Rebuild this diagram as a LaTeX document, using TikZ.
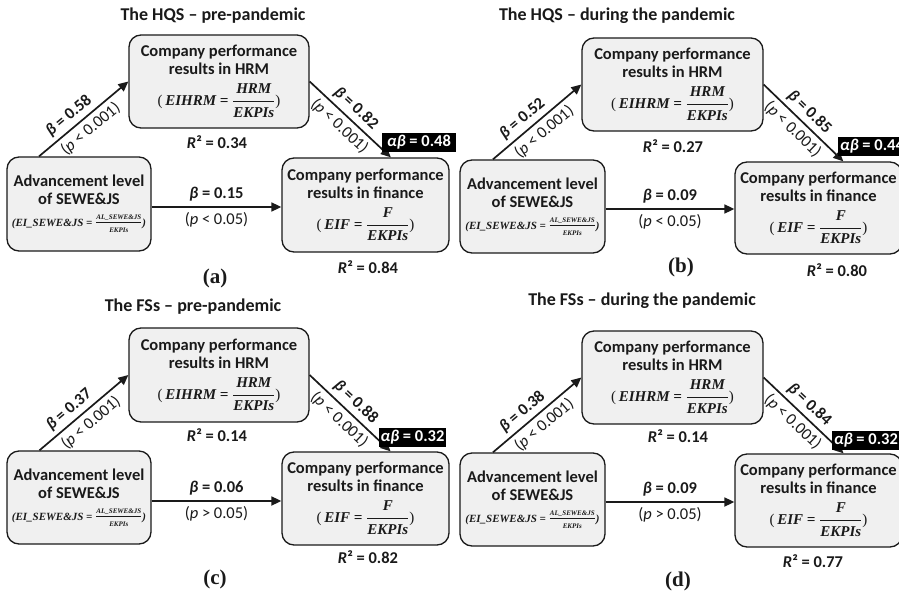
\documentclass[tikz,border=0pt]{standalone}
\usepackage{fontspec}
\setmainfont{Carlito}
\newfontfamily\tnr{Liberation Serif}
\usetikzlibrary{arrows.meta}
\definecolor{boxfill}{RGB}{240,240,240}
\definecolor{ink}{RGB}{26,26,26}
\newcommand\cb{\fontsize{16.5}{18}\selectfont\bfseries}
\newcommand\creg{\fontsize{16.5}{18}\selectfont\mdseries}
\newcommand\fbi{\fontsize{15}{18}\selectfont\tnr\bfseries\itshape}
\newcommand\fup{\fontsize{15}{18}\selectfont\tnr\mdseries\upshape}
\newcommand\sbi{\fontsize{11}{12}\selectfont\tnr\bfseries\itshape}
\newcommand\tbi{\fontsize{7}{8}\selectfont\tnr\bfseries\itshape}
\newcommand\fhrm{{\fup(}\,{\fbi EIHRM\ =\ }$\displaystyle\frac{\hbox{\fbi HRM}}{\hbox{\fbi EKPIs}}${\fup)}}
\newcommand\ffin{{\fup(}\,{\fbi EIF\ =\ }$\displaystyle\frac{\hbox{\fbi F}}{\hbox{\fbi EKPIs}}${\fup)}}
\newcommand\fsew{{\sbi(EI\_SEWE\&JS\ =\ }$\frac{\hbox{\tbi AL\_SEWE\&JS}}{\hbox{\tbi EKPIs}}${\sbi)}}
\tikzset{
  box/.style={draw=ink, fill=boxfill, line width=1.3pt, rounded corners=12pt, align=center, inner sep=0pt, font=\cb, text=ink},
  arr/.style={draw=ink, line width=1.7pt, -{Triangle[length=10pt,width=9pt]}},
  lab/.style={font=\cb, text=ink, inner sep=0pt},
  plab/.style={font=\creg, text=ink, inner sep=0pt},
  ttl/.style={font=\fontsize{18}{20}\selectfont\bfseries, text=ink, inner sep=0pt},
  letter/.style={font=\fontsize{21}{24}\selectfont\tnr\bfseries, text=ink, inner sep=0pt},
  abbox/.style={fill=black, text=white, font=\cb, inner xsep=2pt, inner ysep=0pt, minimum height=19pt},
}
\begin{document}
\begin{tikzpicture}[x=1pt,y=-1pt]
\useasboundingbox (0,0) rectangle (899,594);
\clip (0,0) rectangle (899,594);
\fill[white] (0,0) rectangle (899,594);
% ---------- (a)
\node[ttl] (ta) at (213,16) {The HQS – pre-pandemic};
\node[box, minimum width=180pt, minimum height=93pt] (ha) at (219,81.5) {Company performance\\results in HRM\\[8pt]\fhrm};
\node[box, minimum width=144pt, minimum height=94pt] (sa) at (79,204) {Advancement level\\of SEWE\&JS\\[4pt]\fsew};
\node[box, minimum width=167pt, minimum height=94pt] (fa) at (365.5,205) {Company performance\\results in finance\\[8pt]\ffin};
\node[lab] (ra1) at (217,142) {\textit{R}² = 0.34};
\node[lab] (ra2) at (368,267) {\textit{R}² = 0.84};
\node[letter] (la) at (215,278) {(a)};
\coordinate (sa0) at ([yshift=-3pt]sa.east);
\draw[arr] (sa.130) -- node[lab, sloped, pos=0.42, above=4pt]{\textit{β} = 0.58} node[plab, sloped, pos=0.49, below=4pt]{(\textit{p} < 0.001)} (ha.west);
\draw[arr] (ha.east) -- node[lab, sloped, pos=0.47, above=4pt]{\textit{β} = 0.82} node[plab, sloped, pos=0.47, below=4pt]{(\textit{p} < 0.001)} (fa.62);
\draw[arr] (sa0) -- node[lab, above=5pt]{\textit{β} = 0.15} node[plab, below=5pt]{(\textit{p} < 0.05)} (sa0 -| fa.west);
\node[abbox, minimum width=74pt] (aba) at (419,142.5) {\textit{αβ} = 0.48};
% ---------- (b)
\node[ttl] (tb) at (617,16) {The HQS – during the pandemic};
\node[box, minimum width=181pt, minimum height=93pt] (hb) at (672.5,84.5) {Company performance\\results in HRM\\[8pt]\fhrm};
\node[box, minimum width=145pt, minimum height=93pt] (sb) at (532.5,206.5) {Advancement level\\of SEWE\&JS\\[4pt]\fsew};
\node[box, minimum width=167pt, minimum height=92pt] (fb) at (818.5,208) {Company performance\\results in finance\\[8pt]\ffin};
\node[lab] (rb1) at (673,146) {\textit{R}² = 0.27};
\node[lab] (rb2) at (837,270) {\textit{R}² = 0.80};
\node[letter] (lb) at (681,267) {(b)};
\coordinate (sb0) at ([yshift=-2.5pt]sb.east);
\draw[arr] (sb.130) -- node[lab, sloped, pos=0.42, above=4pt]{\textit{β} = 0.52} node[plab, sloped, pos=0.49, below=4pt]{(\textit{p} < 0.001)} (hb.west);
\draw[arr] (hb.east) -- node[lab, sloped, pos=0.47, above=4pt]{\textit{β} = 0.85} node[plab, sloped, pos=0.47, below=4pt]{(\textit{p} < 0.001)} (fb.62);
\draw[arr] (sb0) -- node[lab, above=5pt]{\textit{β} = 0.09} node[plab, below=5pt]{(\textit{p} < 0.05)} (sb0 -| fb.west);
\node[abbox, minimum width=68pt] (abb) at (872,146.5) {\textit{αβ} = 0.44};
% ---------- (c)
\node[ttl] (tc) at (193,307) {The FSs – pre-pandemic};
\node[box, minimum width=180pt, minimum height=94pt] (hc) at (219,375) {Company performance\\results in HRM\\[8pt]\fhrm};
\node[box, minimum width=144pt, minimum height=93pt] (sc) at (79,497.5) {Advancement level\\of SEWE\&JS\\[4pt]\fsew};
\node[box, minimum width=167pt, minimum height=93pt] (fc) at (365.5,498.5) {Company performance\\results in finance\\[8pt]\ffin};
\node[lab] (rc1) at (217,435) {\textit{R}² = 0.14};
\node[lab] (rc2) at (368,557) {\textit{R}² = 0.82};
\node[letter] (lc) at (215,579) {(c)};
\coordinate (sc0) at ([yshift=-3.5pt]sc.east);
\draw[arr] (sc.130) -- node[lab, sloped, pos=0.42, above=4pt]{\textit{β} = 0.37} node[plab, sloped, pos=0.49, below=4pt]{(\textit{p} < 0.001)} (hc.west);
\draw[arr] (hc.east) -- node[lab, sloped, pos=0.47, above=4pt]{\textit{β} = 0.88} node[plab, sloped, pos=0.47, below=4pt]{(\textit{p} < 0.001)} (fc.62);
\draw[arr] (sc0) -- node[lab, above=5pt]{\textit{β} = 0.06} node[plab, below=5pt]{(\textit{p} > 0.05)} (sc0 -| fc.west);
\node[abbox] (abc) at (412.5,437) {\textit{αβ} = 0.32};
% ---------- (d)
\node[ttl] (td) at (642,301) {The FSs – during the pandemic};
\node[box, minimum width=181pt, minimum height=93pt] (hd) at (672.5,377.5) {Company performance\\results in HRM\\[8pt]\fhrm};
\node[box, minimum width=145pt, minimum height=93pt] (sd) at (532.5,499.5) {Advancement level\\of SEWE\&JS\\[4pt]\fsew};
\node[box, minimum width=167pt, minimum height=93pt] (fd) at (818.5,500.5) {Company performance\\results in finance\\[8pt]\ffin};
\node[lab] (rd1) at (678,436) {\textit{R}² = 0.14};
\node[lab] (rd2) at (813,561) {\textit{R}² = 0.77};
\node[letter] (ld) at (678,581) {(d)};
\coordinate (sd0) at ([yshift=-2.5pt]sd.east);
\draw[arr] (sd.130) -- node[lab, sloped, pos=0.42, above=4pt]{\textit{β} = 0.38} node[plab, sloped, pos=0.49, below=4pt]{(\textit{p} < 0.001)} (hd.west);
\draw[arr] (hd.east) -- node[lab, sloped, pos=0.47, above=4pt]{\textit{β} = 0.84} node[plab, sloped, pos=0.47, below=4pt]{(\textit{p} < 0.001)} (fd.62);
\draw[arr] (sd0) -- node[lab, above=5pt]{\textit{β} = 0.09} node[plab, below=5pt]{(\textit{p} > 0.05)} (sd0 -| fd.west);
\node[abbox] (abd) at (866,440) {\textit{αβ} = 0.32};
\end{tikzpicture}
\end{document}
